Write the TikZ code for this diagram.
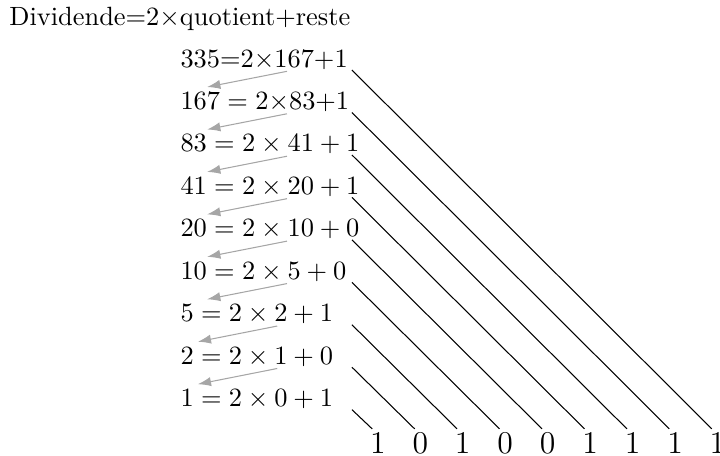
\documentclass[tikz,border=0pt]{standalone}
\usetikzlibrary{arrows.meta,calc}
\tikzset{
  eqn/.style={anchor=base west, inner sep=0pt},
  bit/.style={anchor=base, inner sep=0pt, font=\large},
  back/.style={-{Latex[length=5pt,width=3.5pt]}, black!35},
  diag/.style={black, line width=0.4pt},
}
\begin{document}
\begin{tikzpicture}[x=0.5652cm,y=0.5652cm]
\useasboundingbox (0,0) rectangle (16.96,10.72);
% Titre
\node[eqn] (titre) at (0.21,10.11) {Dividende$=$2$\times$quotient$+$reste};
% Divisions successives par 2
\foreach \k/\eq in {1/{$335{=}2{\times}167{+}1$},
                    2/{$167 = 2{\times}83{+}1$},
                    3/{$83 = 2\times41+1$},
                    4/{$41 = 2\times20+1$},
                    5/{$20 = 2\times10+0$},
                    6/{$10 = 2\times5+0$},
                    7/{$5 = 2\times2+1$},
                    8/{$2 = 2\times1+0$},
                    9/{$1 = 2\times0+1$}} {
  \node[eqn] (e\k) at (4.24,10.14-\k) {\eq};
}
% Le quotient devient le dividende suivant
\foreach \k/\tx/\hx in {1/2.52/0.64,2/2.52/0.64,3/2.52/0.64,4/2.52/0.64,
                        5/2.52/0.64,6/2.52/0.64,7/2.29/0.42,8/2.29/0.42} {
  \coordinate (t\k) at ($(e\k.base west)+(\tx,-0.1)$);
  \coordinate (h\k) at ($(e\k.base west)+(\hx,-0.47)$);
  \draw[back] (t\k) -- (h\k);
}
% Restes lus de bas en haut
\foreach \k/\b in {1/1,2/1,3/1,4/1,5/0,6/0,7/1,8/0,9/1} {
  \node[bit] (b\k) at (17.9-\k,0.047) {\b};
  \coordinate (s\k) at (8.29,10.07-\k);
  \draw[diag] (s\k) -- ([xshift=1pt,yshift=1pt]b\k.north west);
}
\end{tikzpicture}
\end{document}
